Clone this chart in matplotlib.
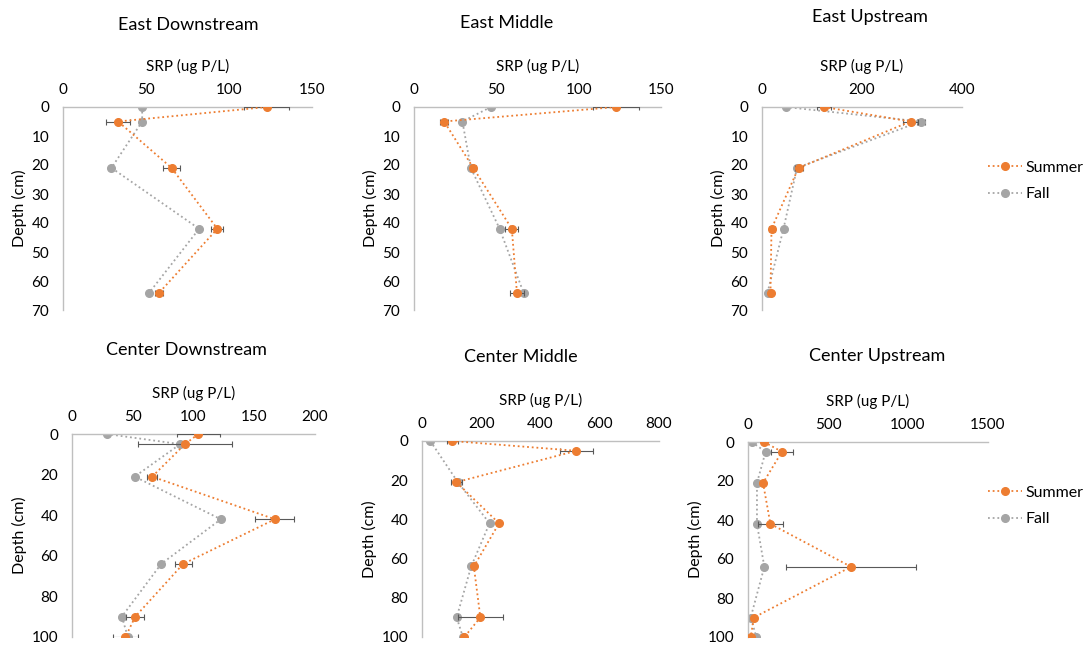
import matplotlib
matplotlib.use("Agg")
import matplotlib.pyplot as plt
import numpy as np
from matplotlib.lines import Line2D

plt.rcParams['font.family'] = ['Lato', 'DejaVu Sans']

W, H = 1088, 647

# ---------------- data ----------------
depth_east = [0, 5, 21, 42, 64]
depth_center = [0, 5, 21, 42, 64, 90, 100]

# East Downstream
ed_summer = [122.8, 33.2, 65.4, 93.0, 58.0]
ed_summer_err = [13.6, 7.0, 5.0, 3.6, 2.5]
ed_fall = [47.7, 47.7, 29.2, 82.0, 52.0]

# East Middle
em_summer = [122.7, 18.3, 36.0, 59.4, 62.5]
em_summer_err = [13.7, 2.3, 1.5, 3.9, 4.0]
em_fall = [46.7, 29.4, 34.5, 52.0, 66.5]

# East Upstream
eu_summer = [124, 297, 73, 19, 17]
eu_summer_err = [14, 15, 8, 6, 3]
eu_fall = [47, 317, 70, 43, 11]
eu_fall_err = [0, 8, 0, 0, 0]

# Center Downstream
cd_summer = [104, 93, 66, 167, 91.5, 52, 44]
cd_summer_err = [17.9, 39, 4, 16, 7, 7.5, 10]
cd_fall = [28.6, 89, 51.6, 122.5, 73.4, 41, 46]

# Center Middle
cm_summer = [102, 521, 116, 260, 175, 197, 143]
cm_summer_err = [19, 55, 18, 0, 0, 75, 0]
cm_fall_depth = [0, 21, 42, 64, 90, 100]
cm_fall = [28, 121, 228, 166, 117, 138]

# Center Upstream
cu_summer = [100, 212, 94, 140, 644, 37, 17]
cu_summer_err = [0, 70, 0, 80, 405, 0, 0]
cu_fall = [23, 110, 56, 56, 102, 17, 52]

series_names = ["Summer", "Fall"]
titles = ["East Downstream", "East Middle", "East Upstream",
          "Center Downstream", "Center Middle", "Center Upstream"]

ORANGE = "#ED7D31"
GREY = "#A5A5A5"
ECOL = "#595959"
SPINE = "#BFBFBF"

fig = plt.figure(figsize=(W / 100, H / 100), dpi=100)


def add_ax(l, t, r, b):
    return fig.add_axes([l / W, 1 - b / H, (r - l) / W, (b - t) / H])


def ftext(x, y, s, **kw):
    fig.text(x / W, 1 - y / H, s, **kw)


dot = (0, (1, 1.6))


def draw(ax, ds, s, se, df, f, fe, xmax, xstep, ymax, ystep):
    ax.errorbar(s, ds, xerr=se, color=ORANGE, ecolor=ECOL, elinewidth=0.8,
                capsize=2.5, capthick=0.8, linestyle=dot, lw=1.3, marker='o',
                ms=5.5, zorder=3, label="Summer")
    ax.errorbar(f, df, xerr=fe, color=GREY, ecolor=ECOL, elinewidth=0.8,
                capsize=2.5, capthick=0.8, linestyle=dot, lw=1.3, marker='o',
                ms=5.5, zorder=2, label="Fall")
    ax.set_xlim(0, xmax)
    ax.set_ylim(ymax, 0)
    ax.set_xticks(np.arange(0, xmax + 1, xstep))
    ax.set_yticks(np.arange(0, ymax + 1, ystep))
    ax.xaxis.tick_top()
    ax.xaxis.set_label_position('top')
    for sp in ['right', 'bottom']:
        ax.spines[sp].set_visible(False)
    for sp in ['left', 'top']:
        ax.spines[sp].set_color(SPINE)
        ax.spines[sp].set_linewidth(1.0)
    ax.tick_params(length=0, labelsize=11, colors='#000000', pad=7)
    ax.tick_params(axis='y', pad=10)
    ax.set_xlabel("SRP (ug P/L)", fontsize=11, labelpad=9)
    ax.set_ylabel("Depth (cm)", fontsize=11.5, labelpad=3)
    ax.set_facecolor('none')


ax1 = add_ax(63, 107, 312, 310)
draw(ax1, depth_east, ed_summer, ed_summer_err, depth_east, ed_fall, None, 150, 50, 70, 10)
ax2 = add_ax(414, 107, 661, 310)
draw(ax2, depth_east, em_summer, em_summer_err, depth_east, em_fall, None, 150, 50, 70, 10)
ax3 = add_ax(762, 107, 962, 310)
draw(ax3, depth_east, eu_summer, eu_summer_err, depth_east, eu_fall, eu_fall_err, 400, 200, 70, 10)
ax4 = add_ax(72, 434, 315, 637)
draw(ax4, depth_center, cd_summer, cd_summer_err, depth_center, cd_fall, None, 200, 50, 100, 20)
ax5 = add_ax(422, 441, 659, 637)
draw(ax5, depth_center, cm_summer, cm_summer_err, cm_fall_depth, cm_fall, None, 800, 200, 100, 20)
ax6 = add_ax(748, 442, 988, 637)
draw(ax6, depth_center, cu_summer, cu_summer_err, depth_center, cu_fall, None, 1500, 500, 100, 20)

title_pos = [(188, 25), (507, 23), (870, 17), (186, 350), (521, 357), (877, 356)]
for (x, y), t in zip(title_pos, titles):
    ftext(x, y, t, fontsize=13, ha='center', va='center')

handles = [Line2D([], [], color=ORANGE, linestyle=dot, lw=1.3, marker='o', ms=5.5),
           Line2D([], [], color=GREY, linestyle=dot, lw=1.3, marker='o', ms=5.5)]
for yc in (181, 506):
    fig.legend(handles, series_names, loc='center left',
               bbox_to_anchor=(982 / W, 1 - yc / H), frameon=False,
               fontsize=11.5, handlelength=2.1, handletextpad=0.2,
               labelspacing=0.75, borderaxespad=0)

fig.savefig("out.png", dpi=100)
